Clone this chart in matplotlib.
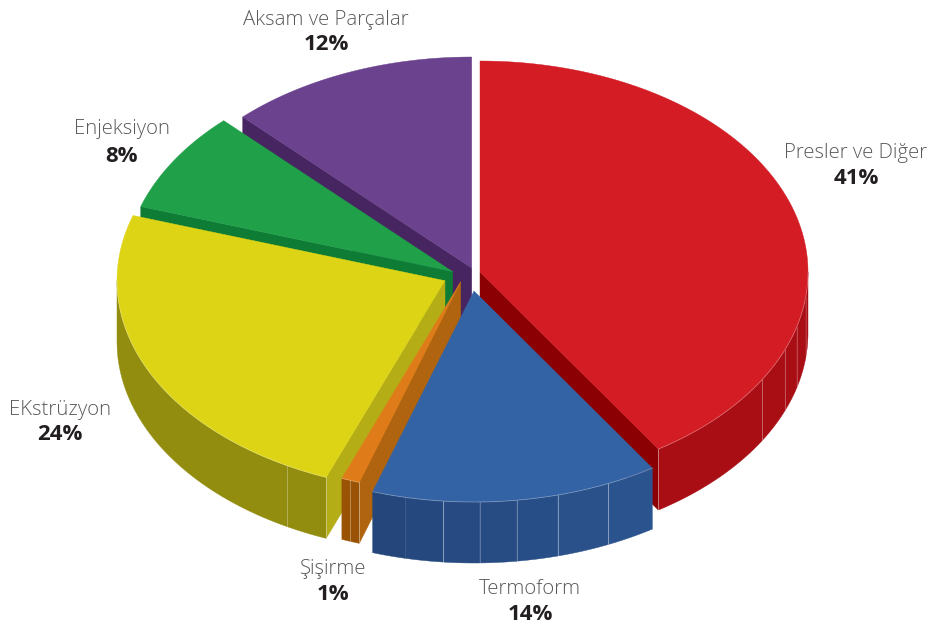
import numpy as np
import matplotlib
matplotlib.use("Agg")
import matplotlib.pyplot as plt
from matplotlib.colors import to_rgb

# ---- data (clockwise from 12 o'clock) ----
names = ["Presler ve Diğer", "Termoform", "Şişirme", "EKstrüzyon", "Enjeksiyon", "Aksam ve Parçalar"]
shares = [40.85, 14.15, 0.9, 24.1, 7.7, 12.3]

# ---- exploded position of each slice's apex ----
apex_x = [480, 474, 460.7, 445, 452.7, 471.7]
apex_y = [272, 291, 281.7, 280.7, 271.7, 268]
RX, RY, DEPTH = 328, 211, 61

top_col = ["#D31C24", "#3463A5", "#E07B1A", "#DCD415", "#1FA049", "#6B428E"]
wall_l = ["#A90E15", "#23457A", "#9A5205", "#928D0E", "#0E7C35", "#472560"]
wall_r = ["#A90E15", "#2C5590", "#9A5205", "#928D0E", "#0E7C35", "#472560"]
cut_col = ["#8B0003", "#254A7F", "#B0640F", "#B5AD16", "#0E7C35", "#472560"]
seams = [[96.8, 105, 111.6, 120.6], [155.8, 165.2, 172.5, 179, 185.4, 192.1], [199.7], [208.8], [], []]
seam_alpha = [[.18, .25, .3, .3], [.4, .4, .3, .25, .45, .05], [.3], [.3], [], []]

label_x = [856, 530, 333, 60, 122, 326]
label_y = [153, 589, 569, 410, 129, 20]
pct_x = [856, 530, 333, 60, 122, 326]
pct_y = [179, 615, 594, 435, 156, 45]

draw_order = [5, 4, 3, 2, 0, 1]

fig = plt.figure(figsize=(9.32, 6.28), dpi=100)
ax = fig.add_axes([0, 0, 1, 1])
ax.set_xlim(0, 932)
ax.set_ylim(628, 0)
ax.axis("off")

bounds = np.concatenate([[0], np.cumsum(shares)]) * 3.6
bounds[-1] = 360


def pt(cx, cy, t, dz=0.0):
    r = np.radians(t)
    return cx + RX * np.sin(r), cy - RY * np.cos(r) + dz


def poly(xs, ys, col):
    ax.fill(xs, ys, facecolor=col, edgecolor=col, lw=0.3, zorder=zo[0])
    zo[0] += 1


zo = [1]
for i in draw_order:
    a, b = bounds[i], bounds[i + 1]
    cx, cy = apex_x[i], apex_y[i]

    # cut faces turned to the viewer
    edge = None
    if i == 0:
        edge = b
    elif i in (2, 3, 4, 5):
        edge = a
    if edge is not None:
        ex, ey = pt(cx, cy, edge)
        poly([cx, ex, ex, cx], [cy, ey, ey + DEPTH, cy + DEPTH], cut_col[i])

    # outer wall (front half only), split at the seams
    lo, hi = max(a, 90), min(b, 270)
    if lo < hi:
        stops = [lo] + [s for s in seams[i] if lo < s < hi] + [hi]
        c1, c2 = np.array(to_rgb(wall_l[i])), np.array(to_rgb(wall_r[i]))
        for s0, s1 in zip(stops[:-1], stops[1:]):
            tt = np.linspace(s0, s1, 40)
            x, y = pt(cx, cy, tt)
            mid = (s0 + s1) / 2
            xm = pt(cx, cy, mid)[0]
            f = np.clip((xm - (cx - RX * .32)) / (RX * .9), 0, 1)
            poly(np.r_[x, x[::-1]], np.r_[y, y[::-1] + DEPTH], c1 + (c2 - c1) * f)
        for s, al in zip(seams[i], seam_alpha[i]):
            x0, y0 = pt(cx, cy, s)
            ax.plot([x0, x0], [y0, y0 + DEPTH], color="white", alpha=al, lw=0.7, zorder=zo[0])
        zo[0] += 1
        if edge is not None:
            ex, ey = pt(cx, cy, edge)
            ax.plot([ex, ex], [ey, ey + DEPTH], color="white", alpha=.4, lw=0.7, zorder=zo[0])

    # top face
    tt = np.linspace(a, b, 160)
    x, y = pt(cx, cy, tt)
    poly(np.r_[cx, x], np.r_[cy, y], top_col[i])
    if lo < hi:
        tt = np.linspace(lo, hi, 80)
        x, y = pt(cx, cy, tt)
        ax.plot(x, y, color="white", alpha=.3, lw=0.6, zorder=zo[0])
        zo[0] += 1

for n, s, x, y, px, py in zip(names, shares, label_x, label_y, pct_x, pct_y):
    ax.text(x, y, n, ha="center", va="center", fontsize=14.7, family="Open Sans",
            fontweight="light", color="#5A5A5A", zorder=100)
    ax.text(px, py, f"{round(s)}%", ha="center", va="center", fontsize=16,
            family="Open Sans", fontweight="bold", color="#231F20", zorder=100)

fig.savefig("out.png", dpi=100)
